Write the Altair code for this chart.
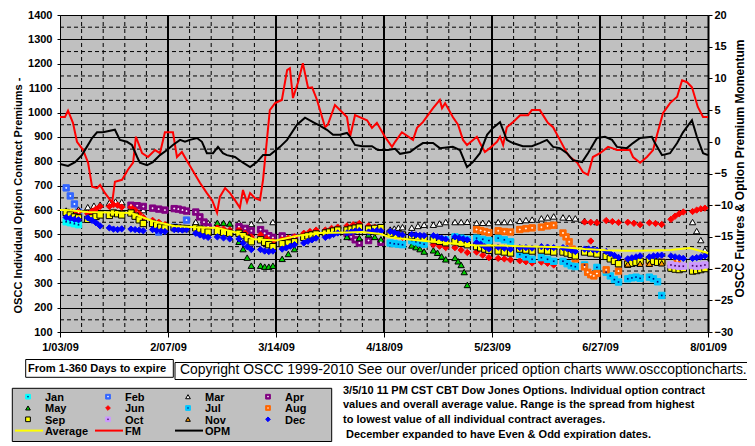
import json
import altair as alt
import pandas as pd

# ---------------- data ----------------
tick_days = [0, 35, 70, 105, 140, 175, 210]
tick_labels = ["1/03/09", "2/07/09", "3/14/09", "4/18/09", "5/23/09", "6/27/09", "8/01/09"]
left_ticks = list(range(100, 1401, 100))
right_ticks = list(range(-30, 21, 5))

# (day since 1/03/09, value) -- right axis
fm_points = [(0, 3.9), (1.6, 3.9), (2.6, 4.9), (4.2, 3.0), (5.5, 0.0), (7.5, -1.3), (9.1, -3.3), (10.4, -7.1),
             (12, -7.3), (13, -6.8), (14.6, -8.1), (16.9, -9.6), (17.8, -6.3), (20.1, -6.0), (22, -4.4),
             (23.7, -3.3), (24.6, 0.8), (26.6, -1.8), (28.5, -2.4), (30.8, -1.3), (32.4, -1.8), (34, 1.5),
             (36.6, 1.5), (37.9, -2.4), (39.5, -1.6), (41.5, -3.3), (45.4, -6.5), (47.6, -8.1), (49.3, -9.2),
             (50.9, -11.2), (51.8, -8.7), (53.5, -7.3), (55.1, -8.1), (56.7, -9.2), (58.3, -10.4), (59.3, -7.6),
             (60.6, -9.5), (61.6, -8.1), (63.2, -8.9), (64.8, -9.2), (65.8, -6.0), (68, 5.0), (69.7, 6.1),
             (71.9, 6.6), (73.6, 11.3), (74.5, 11.6), (75.5, 6.9), (77.1, 9.3), (78.7, 12.4), (80.4, 8.5),
             (81.7, 8.6), (83.3, 6.6), (85.9, 2.3), (86.8, 2.7), (89.1, 5.8), (93, 3.9), (94, 0.8), (95.6, 4.2),
             (99.5, 3.4), (101.1, 2.2), (102.7, 3.0), (105.3, 0.8), (107.6, -0.8), (108.6, 0.0), (110.8, 1.5),
             (114.4, 0.3), (115.7, 2.2), (117.6, 3.1), (120.9, 5.3), (123.1, 6.6), (123.8, 5.3), (124.8, 6.1),
             (127.3, 3.9), (129, 2.7), (130.6, 0.3), (131.9, -0.5), (135.1, 0.8), (136.1, -0.2), (137.7, -1.6),
             (139.3, -1.0), (141.6, 0.0), (142.6, 0.8), (143.6, -0.5), (144.8, 2.3), (146.8, 3.1), (149.1, 4.2),
             (151.7, 4.2), (152.9, 5.0), (155.5, 5.0), (158.1, 3.0), (159.8, 2.3), (162, 0.3), (164.3, -1.8),
             (165.3, -2.4), (167.5, -3.2), (169.5, -4.8), (171.1, -5.2), (172.7, -2.4), (175, -1.8), (177.6, -0.8),
             (178.9, -1.0), (180.5, -1.3), (184.7, -1.3), (185.7, -2.4), (188, -3.3), (190.2, -2.4), (192.2, -1.3),
             (193.5, 1.1), (195.4, 4.5), (197.7, 6.1), (200, 7.1), (201.6, 9.7), (203.2, 9.4), (204.8, 8.6),
             (206.7, 5.5), (208.4, 3.9), (210, 3.9)]

opm_points = [(0, -3.5), (2.6, -3.8), (4.9, -3.2), (7.1, -2.1), (8.7, -0.8), (10.4, 0.6), (12, 1.5), (13.9, 1.5),
              (17.8, 1.9), (19.4, 0.3), (21.7, 0.0), (23.3, -0.5), (25, -2.4), (25.9, -3.3), (28.2, -3.7),
              (30.1, -3.2), (32.4, -2.1), (34.7, -1.3), (36.6, -0.5), (38.9, 0.3), (40.5, 0.0), (42.1, 0.3),
              (44.4, 0.6), (46, 0.0), (47.6, -1.8), (49.6, -1.8), (51.2, -0.8), (52.8, -1.8), (54.1, -2.1),
              (56.7, -2.4), (59.3, -3.3), (61.6, -4.0), (63.8, -3.2), (65.8, -2.1), (68, -2.1), (71.3, -0.8),
              (73.6, 0.3), (76.8, 2.7), (79.4, 3.8), (82, 3.1), (84.3, 2.5), (86.5, 1.9), (88.5, 1.1), (90.7, 1.1),
              (93, 1.4), (94, 0.8), (95.6, -0.5), (97.9, -0.7), (101.1, -0.7), (103, -1.3), (106.3, -1.3),
              (108.6, -1.1), (110.2, -1.9), (113.4, -1.6), (115.7, -0.8), (117.6, -0.2), (120.9, -0.2),
              (123.1, -1.0), (127.3, -0.8), (129.6, -1.3), (131.9, -4.0), (133.8, -3.2), (136.1, -1.8),
              (138.4, 1.1), (140.3, 2.2), (142.6, 3.1), (144.8, 0.3), (146.8, -0.2), (150, -0.7), (152.9, -0.7),
              (155.5, -0.2), (157.8, 0.3), (159.8, -0.8), (162, -1.0), (164.3, -1.8), (166.2, -2.9), (169.2, -3.2),
              (171.1, -1.8), (174, 0.6), (176.6, 0.8), (178.9, 0.3), (180.5, -0.8), (183.7, -1.0), (185.7, -0.2),
              (188, 0.6), (191.8, 0.8), (192.8, -0.2), (195.1, -2.1), (197.7, -1.8), (200, -0.2), (201.9, 1.5),
              (204.8, 3.4), (206.4, 0.8), (208.4, -1.8), (210, -2.1)]

# left axis
avg_points = [(0, 600), (2, 600), (9, 592), (16, 590), (23, 588), (30, 555), (37, 535), (44, 530), (51, 527),
              (58, 505), (63, 480), (70, 475), (77, 495), (84, 506), (93, 508), (98, 510), (104, 502), (107, 488),
              (114, 478), (121, 470), (128, 462), (135, 455), (142, 455), (149, 452), (156, 450), (163, 448),
              (170, 440), (177, 435), (184, 433), (191, 434), (198, 436), (204, 444), (210, 424)]

# contract series: (week index from Mon 1/05/09, daily values across that week)
jan = [(0, [552, 548, 544, 540])]
feb = [(0, [691, 658, 625, 592]), (4, [510]), (5, [530, 559])]
mar = [(0, [598, 602]), (1, [612, 618, 622]), (2, [630, 635, 633]), (3, [610, 600]), (6, [551, 547]),
       (8, [547, 543]), (9, [559, 551]), (15, [520, 524, 528, 530]), (16, [528, 535, 540]),
       (17, [540, 545, 551]), (18, [551, 551, 552]), (19, [547, 548, 547]), (20, [551, 551, 551]),
       (21, [556, 559, 561]), (22, [566, 570, 574]), (23, [570, 568, 566]), (24, [556, 551]),
       (29, [551, 514, 477, 436])]
apr = [(3, [620, 618, 615]), (4, [608, 604, 600]), (5, [606, 604, 600, 596]), (6, [592, 572, 551, 531]),
       (8, [532, 525, 515]), (9, [520, 505, 495, 488]), (10, [494, 488]), (13, [505, 490, 478, 465]),
       (14, [475, 468])]
may = [(7, [548, 547, 545]), (8, [470, 440, 405, 372]), (9, [372, 368, 368, 372]), (10, [400, 420, 440]),
       (13, [490, 485]), (14, [500, 490, 480]), (16, [455, 448, 440, 430]), (17, [435, 425, 410, 398]),
       (18, [404, 390, 375, 346, 293])]
jun = [(0, [588, 590, 592]), (1, [585, 595, 605, 615]), (2, [615, 622, 620, 612]), (3, [612, 600, 585, 570]),
       (4, [558, 550, 540]), (5, [530, 528, 525]), (6, [528, 522, 518]), (7, [527, 522, 518]),
       (8, [520, 505, 490]), (9, [498, 485, 472]), (10, [480, 485, 490]), (11, [505, 512, 518]),
       (12, [518, 525, 530]), (13, [535, 540, 545]), (14, [535, 530, 525]), (15, [505, 495, 488]),
       (16, [480, 470, 465]), (17, [458, 452, 446]), (18, [446, 436, 426]), (19, [428, 415, 405]),
       (20, [402, 400, 396]), (21, [392, 388, 383]), (22, [387, 382, 375]), (24, [473]),
       (24, [551, 550, 548]), (25, [557, 553, 549]), (26, [550, 546, 540]), (27, [548, 545, 541]),
       (28, [562, 575, 585, 592]), (29, [594, 600, 605, 608])]
jul = [(15, [465, 462, 460, 458]), (16, [475, 470, 465, 460]), (17, [485, 480, 478]), (18, [490, 485, 480]),
       (19, [485, 480, 475]), (20, [485, 478, 470]), (21, [418, 408, 398]), (22, [405, 398, 390]),
       (23, [390, 380, 372, 368]), (24, [375, 365]), (25, [345, 330, 315, 305]), (26, [318, 322, 325, 320]),
       (27, [325, 318, 306, 250])]
aug = [(19, [520, 516, 512, 508]), (20, [515, 512, 510]), (21, [520, 524, 527]), (22, [530, 535, 538]),
       (23, [506, 490, 470, 440, 400]), (24, [367, 345, 335, 330, 340]), (25, [355, 350]), (26, [385, 387]),
       (27, [383, 386]), (28, [392])]
sep = [(0, [590, 580, 572, 568]), (1, [562, 568, 574, 580]), (2, [578, 588, 585, 580]), (3, [588, 575, 560, 545]),
       (4, [545, 538, 530, 527]), (5, [528, 526, 525, 524]), (6, [527, 522, 515, 510]), (7, [512, 508, 505]),
       (8, [505, 495, 482, 470]), (9, [478, 468, 458, 450]), (10, [462, 465, 470]), (11, [488, 494, 498, 502]),
       (12, [506, 510, 514, 518]), (13, [518, 522, 526, 530]), (14, [522, 525, 528]), (15, [505, 500, 498]),
       (16, [495, 490, 488]), (17, [478, 472, 466]), (18, [470, 464, 458]), (19, [450, 445, 440, 435]),
       (20, [432, 428, 424]), (21, [440, 436, 432]), (22, [436, 432, 428]), (23, [428, 424, 418, 412]),
       (24, [428, 424, 420]), (25, [410, 400, 390, 380]), (26, [378, 382, 386, 390]), (27, [395, 390, 386, 385]),
       (28, [362, 358, 356, 360]), (29, [350, 352, 356, 360])]
oct_ = [(28, [375, 372, 370, 370]), (29, [372, 370, 372, 375])]
nov = [(26, [378, 380]), (27, [380, 382])]
dec = [(0, [570, 566, 562, 560]), (1, [568, 558, 548, 535]), (2, [527, 522, 520, 523]), (3, [522, 520, 518, 515]),
       (4, [520, 516, 514, 512]), (5, [520, 520, 518, 520]), (6, [505, 498, 492, 488]), (7, [490, 486, 482]),
       (8, [482, 465, 450, 438]), (9, [438, 432, 430, 432]), (10, [440, 445, 452, 458]), (11, [465, 472, 478, 485]),
       (12, [488, 494, 500, 506]), (13, [506, 510, 514, 516]), (14, [510, 514, 516, 515]),
       (15, [512, 508, 502, 498]), (16, [500, 498, 496, 495]), (17, [495, 490, 485, 480]),
       (18, [490, 486, 482, 478]), (19, [466, 460, 450, 440]), (20, [448, 444, 440]), (21, [446, 446, 444]),
       (22, [450, 448, 446]), (23, [446, 442, 436, 430]), (24, [440, 440, 438, 436]), (25, [430, 422, 414, 406]),
       (26, [400, 404, 408, 412]), (27, [408, 412, 414, 415]), (28, [412, 408, 405, 402]),
       (29, [402, 405, 408, 412])]

series_names = ["Jan", "Feb", "Mar", "Apr", "May", "Jun", "Jul", "Aug", "Sep", "Oct", "Nov", "Dec"]
series_data = [jan, feb, mar, apr, may, jun, jul, aug, sep, oct_, nov, dec]

note_lines = ["3/5/10 11 PM CST CBT Dow Jones Options. Individual option contract",
              "values and overall average value. Range is the spread from highest",
              "to lowest value of all individual contract averages.",
              "December expanded to have Even & Odd expiration dates."]

# ---------------- styles ----------------
F = "Liberation Sans"
fills = ["#00FFFF", "#3366FF", "#FFFFFF", "#800080", "#00CC00", "#FF0000",
         "#00C8FF", "#FF6600", "#FFFF00", "#CC99FF", "#FF9900", "#0000FF"]
strokes = ["#00FFFF", "#3366FF", "#000000", "#800080", "#000000", "#FF0000",
           "#00C8FF", "#FF6600", "#000000", "#CC99FF", "#000000", "#0000FF"]
shapes = ["square", "square", "triangle-up", "square", "triangle-up", "diamond",
          "square", "square", "square", "square", "triangle-up", "diamond"]
sizes_plot = [40, 40, 56, 40, 56, 52, 40, 40, 40, 40, 56, 52]
sizes_leg = [22, 22, 30, 22, 30, 30, 22, 22, 22, 22, 30, 30]
plus_names, plus_colors = ["Feb", "Apr", "Aug"], ["#FFFFFF", "#FFFFFF", "#FFFFFF"]
x_names, x_colors = ["Jan", "Jul", "Oct"], ["#000080", "#000080", "#400060"]


def week_days(week, n):
    base = 2 + 7 * week
    if n == 1:
        return [base + 2]
    return [base + 4 * i / (n - 1) for i in range(n)]


rows = []
for name, clusters in zip(series_names, series_data):
    for wk, vals in clusters:
        for d, v in zip(week_days(wk, len(vals)), vals):
            rows.append({"day": d, "value": v, "series": name})
pts = pd.DataFrame(rows)

fm_df = pd.DataFrame(fm_points, columns=["day", "v"])
opm_df = pd.DataFrame(opm_points, columns=["day", "v"])
avg_df = pd.DataFrame(avg_points, columns=["day", "v"])

# ---------------- scales / axes ----------------
XS = alt.Scale(domain=[0, 210], nice=False, zero=False)
YL = alt.Scale(domain=[100, 1400], nice=False, zero=False)
YR = alt.Scale(domain=[-30, 20], nice=False, zero=False)

label_expr = f"{json.dumps(tick_labels)}[indexof({json.dumps(tick_days)}, datum.value)]"
x_axis = alt.Axis(values=tick_days, labelExpr=label_expr, title=None, grid=False,
                  domainColor="black", domainWidth=1, tickColor="black", tickSize=5,
                  labelPadding=4, labelFlush=False, labelOverlap=False,
                  labelFont=F, labelFontSize=11, labelFontWeight="bold", labelColor="black")
yl_axis = alt.Axis(values=left_ticks, format="d", title="OSCC Individual Option Contract Premiums -",
                   grid=True, gridColor="black", gridWidth=1, gridOpacity=1,
                   domainColor="black", domainWidth=1, tickColor="black", tickSize=3,
                   labelPadding=5, labelFont=F, labelFontSize=11, labelFontWeight="bold",
                   labelColor="black", labelOverlap=False, labelFlush=False,
                   titleFont=F, titleFontSize=11, titleFontWeight="bold", titleColor="black",
                   titleAngle=270, titleX=-39, titleY=180, titleAlign="center",
                   titleBaseline="alphabetic")
yr_axis = alt.Axis(values=right_ticks, format="d", orient="right",
                   title="OSCC Futures & Option Premium Momentum",
                   grid=False, domainColor="black", domainWidth=2, tickColor="black", tickSize=4,
                   labelPadding=2, labelFont=F, labelFontSize=11, labelFontWeight="bold",
                   labelColor="black", labelOverlap=False, labelFlush=False,
                   titleFont=F, titleFontSize=12, titleFontWeight="bold", titleColor="black",
                   titleAngle=270, titleX=35, titleY=153, titleAlign="center",
                   titleBaseline="alphabetic")

X = alt.X("day:Q", scale=XS, axis=x_axis)
Y = alt.Y("value:Q", scale=YL, axis=yl_axis)

# ---------------- grid rules ----------------
hdash_df = pd.DataFrame({"value": list(range(150, 1400, 100))})
hdash = alt.Chart(hdash_df).mark_rule(color="black", strokeWidth=1, strokeDash=[4, 3]).encode(y=Y)
week_df = pd.DataFrame({"day": [d for d in range(7, 210, 7) if d % 35 != 0]})
vweek = alt.Chart(week_df).mark_rule(color="black", strokeWidth=1, strokeDash=[4, 3]).encode(x=X)
major_df = pd.DataFrame({"day": [35, 70, 105, 140, 175]})
vmajor = alt.Chart(major_df).mark_rule(color="black", strokeWidth=2).encode(x=X)


def enc_style(sizes):
    return dict(
        fill=alt.Fill("series:N", scale=alt.Scale(domain=series_names, range=fills), legend=None),
        stroke=alt.Stroke("series:N", scale=alt.Scale(domain=series_names, range=strokes), legend=None),
        shape=alt.Shape("series:N", scale=alt.Scale(domain=series_names, range=shapes), legend=None),
        size=alt.Size("series:N", scale=alt.Scale(domain=series_names, range=sizes), legend=None),
    )


def point_layer(names):
    return (alt.Chart(pts)
            .transform_filter(alt.FieldOneOfPredicate(field="series", oneOf=names))
            .mark_point(filled=True, opacity=1, strokeWidth=1)
            .encode(x=X, y=Y, **enc_style(sizes_plot)))


def glyph_layer(names, gnames, gcolors, angle, size=4, df=None, xenc=None, yenc=None):
    base = alt.Chart(pts if df is None else df)
    return (base.transform_filter(alt.FieldOneOfPredicate(field="series", oneOf=names))
            .mark_point(shape="cross", filled=True, opacity=1, strokeWidth=0, size=size, angle=angle)
            .encode(x=xenc if xenc is not None else X, y=yenc if yenc is not None else Y,
                    fill=alt.Fill("series:N", scale=alt.Scale(domain=gnames, range=gcolors), legend=None)))


ptsA = point_layer(series_names[:8])
glyA1 = glyph_layer(plus_names, plus_names, plus_colors, 0)
glyA2 = glyph_layer(["Jan", "Jul"], x_names, x_colors, 45)
ptsB = point_layer(["Sep", "Oct"])
glyB = glyph_layer(["Oct"], x_names, x_colors, 45)
ptsC = point_layer(["Nov", "Dec"])

avg_line = alt.Chart(avg_df).mark_line(color="#FFFF00", strokeWidth=2).encode(
    x=X, y=alt.Y("v:Q", scale=YL, axis=yl_axis))

# ---------------- boxes, legend, notes (layout in plot-relative pixels) ----------------
boxes_df = pd.DataFrame({
    "x1": [-34.3, 115, -47.7], "x2": [113.3, 720, 271.7],
    "y1": [344.5, 347.5, 373.3], "y2": [362.3, 364.5, 426.5],
    "f": ["#FFFFFF", "#FFFFFF", "#C0C0C0"]})
boxes = alt.Chart(boxes_df).mark_rect(stroke="black", strokeWidth=1).encode(
    x=alt.X("x1:Q", scale=None), x2="x2:Q", y=alt.Y("y1:Q", scale=None), y2="y2:Q",
    fill=alt.Fill("f:N", scale=None))

leg_rows = []
for i, name in enumerate(series_names):
    r, c = divmod(i, 4)
    leg_rows.append({"series": name, "lx": -32 + 80 * c, "ly": 381.7 + 11.3 * r,
                     "tx": -15 + 80 * c, "ty": 386 + 11.3 * r})
leg_df = pd.DataFrame(leg_rows)
LX = alt.X("lx:Q", scale=None)
LY = alt.Y("ly:Q", scale=None)
leg_pts = alt.Chart(leg_df).mark_point(filled=True, opacity=1, strokeWidth=1).encode(
    x=LX, y=LY, **enc_style(sizes_leg))
leg_gly1 = glyph_layer(plus_names, plus_names, plus_colors, 0, size=3, df=leg_df, xenc=LX, yenc=LY)
leg_gly2 = glyph_layer(x_names, x_names, x_colors, 45, size=3, df=leg_df, xenc=LX, yenc=LY)

line_names = ["Average", "FM", "OPM"]
line_colors = ["#FFFF00", "#FF0000", "#000000"]
leg_lines_df = pd.DataFrame({"x1": [-45 + 80 * c for c in range(3)], "x2": [-17 + 80 * c for c in range(3)],
                             "y": [381.7 + 11.3 * 3] * 3, "c": line_colors})
leg_lines = alt.Chart(leg_lines_df).mark_rule(strokeWidth=2).encode(
    x=alt.X("x1:Q", scale=None), x2="x2:Q", y=alt.Y("y:Q", scale=None), color=alt.Color("c:N", scale=None))

leg_text_df = pd.DataFrame(
    [{"tx": r["tx"], "ty": r["ty"], "t": r["series"]} for r in leg_rows] +
    [{"tx": -15 + 80 * c, "ty": 386 + 11.3 * 3, "t": n} for c, n in enumerate(line_names)])
leg_text = alt.Chart(leg_text_df).mark_text(align="left", baseline="alphabetic", font=F, fontSize=11,
                                            fontWeight="bold", color="black").encode(
    x=alt.X("tx:Q", scale=None), y=alt.Y("ty:Q", scale=None), text="t:N")

from_text = alt.Chart(pd.DataFrame({"tx": [-32], "ty": [356.5], "t": ["From 1-360 Days to expire"]})).mark_text(
    align="left", baseline="alphabetic", font=F, fontSize=11.1, fontWeight="bold", color="black").encode(
    x=alt.X("tx:Q", scale=None), y=alt.Y("ty:Q", scale=None), text="t:N")
copy_text = alt.Chart(pd.DataFrame({"tx": [120], "ty": [359],
                                    "t": ["Copyright OSCC 1999-2010 See our over/under priced option charts www.osccoptioncharts.com"]})).mark_text(
    align="left", baseline="alphabetic", font=F, fontSize=13.9, color="black").encode(
    x=alt.X("tx:Q", scale=None), y=alt.Y("ty:Q", scale=None), text="t:N")
note_df = pd.DataFrame({"tx": [283, 283, 283, 286], "ty": [379, 392.5, 408, 422.5], "t": note_lines})
note_text = alt.Chart(note_df).mark_text(align="left", baseline="alphabetic", font=F, fontSize=11,
                                         fontWeight="bold", color="black").encode(
    x=alt.X("tx:Q", scale=None), y=alt.Y("ty:Q", scale=None), text="t:N")

left = alt.layer(hdash, vweek, vmajor, ptsA, glyA1, glyA2, ptsB, glyB, ptsC, avg_line,
                 boxes, leg_lines, leg_pts, leg_gly1, leg_gly2, leg_text, from_text, copy_text,
                 note_text).resolve_scale(fill="independent", stroke="independent",
                                          shape="independent", size="independent")

YRenc = alt.Y("v:Q", scale=YR, axis=yr_axis)
fm_line = alt.Chart(fm_df).mark_line(color="#FF0000", strokeWidth=2).encode(x=X, y=YRenc)
opm_line = alt.Chart(opm_df).mark_line(color="#000000", strokeWidth=2).encode(x=X, y=YRenc)
right = alt.layer(fm_line, opm_line)

chart = (alt.layer(left, right)
         .resolve_scale(y="independent")
         .properties(width=648, height=317,
                     padding={"left": 52, "top": 7, "right": 39, "bottom": 114},
                     autosize=alt.AutoSizeParams(type="none"))
         .configure_view(fill="#C0C0C0", stroke="#808080", strokeWidth=1))

chart.save("out.html", embed_options={"renderer": "svg", "actions": False})
